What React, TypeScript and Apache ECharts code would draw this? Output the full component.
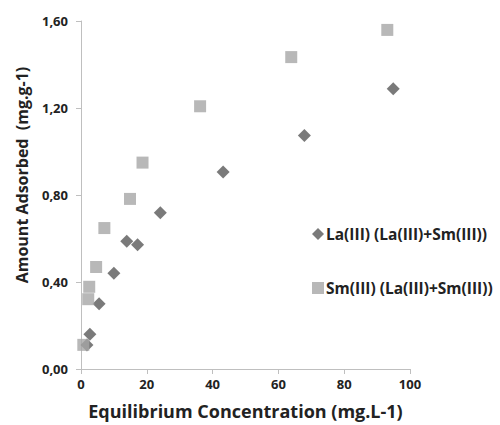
import React, { useEffect, useRef } from "react";
import * as echarts from "echarts";

const laX = [1.8, 2.7, 5.5, 10.0, 13.9, 17.2, 24.1, 43.2, 67.9, 94.9];
const laY = [0.11, 0.16, 0.30, 0.44, 0.587, 0.571, 0.718, 0.906, 1.074, 1.288];
const smX = [0.7, 2.2, 2.5, 4.6, 7.1, 14.9, 18.7, 36.2, 63.9, 93.1];
const smY = [0.111, 0.321, 0.378, 0.469, 0.648, 0.782, 0.949, 1.208, 1.434, 1.559];
const seriesNames = ["La(III) (La(III)+Sm(III))", "Sm(III) (La(III)+Sm(III))"];
const xTitle = "Equilibrium Concentration (mg.L-1)";
const yTitle = "Amount Adsorbed  (mg.g-1)";

export default function App() {
  const ref = useRef<HTMLDivElement>(null);
  useEffect(() => {
    if (!ref.current) return;
    const chart = echarts.init(ref.current, null, { renderer: "svg" });
    const font = "Open Sans";
    const textColor = "#222222";
    const la = laX.map((x, i) => [x, laY[i]]);
    const sm = smX.map((x, i) => [x, smY[i]]);
    chart.setOption({
      animation: false,
      backgroundColor: "#ffffff",
      grid: { left: 81, right: 90, top: 21, bottom: 54, containLabel: false },
      legend: {
        orient: "vertical",
        left: 307,
        top: 221,
        itemGap: 38,
        itemWidth: 12,
        itemHeight: 12,
        textStyle: { fontFamily: font, fontWeight: "bold", fontSize: 15.5, color: textColor, padding: [0, 0, 0, -3] },
        data: [
          { name: seriesNames[0], icon: "diamond", itemStyle: { color: "#595959" } },
          { name: seriesNames[1], icon: "rect", itemStyle: { color: "#a6a6a6" } },
        ],
      },
      graphic: [
        {
          type: "text",
          x: 22,
          y: 175,
          rotation: Math.PI / 2,
          style: {
            text: yTitle,
            fontFamily: font,
            fontWeight: "bold",
            fontSize: 16,
            fill: textColor,
            align: "center",
            verticalAlign: "middle",
          },
        },
      ],
      xAxis: {
        type: "value",
        min: 0,
        max: 100,
        interval: 20,
        name: xTitle,
        nameLocation: "middle",
        nameGap: 33,
        nameTextStyle: { fontFamily: font, fontWeight: "bold", fontSize: 18, color: textColor },
        axisLine: { show: true, onZero: false, lineStyle: { color: "#bfbfbf", width: 1 } },
        axisTick: { show: true, length: 5, lineStyle: { color: "#bfbfbf" } },
        axisLabel: { fontFamily: font, fontWeight: "bold", fontSize: 13, color: textColor, margin: 8 },
        splitLine: { show: false },
      },
      yAxis: {
        type: "value",
        min: 0,
        max: 1.6,
        interval: 0.4,
        axisLine: { show: true, onZero: false, lineStyle: { color: "#bfbfbf", width: 1 } },
        axisTick: { show: true, length: 5, lineStyle: { color: "#bfbfbf" } },
        axisLabel: {
          fontFamily: font,
          fontWeight: "bold",
          fontSize: 13,
          color: textColor,
          margin: 13,
          formatter: (v: number) => v.toFixed(2).replace(".", ","),
        },
        splitLine: { show: false },
      },
      series: [
        {
          name: seriesNames[1],
          type: "scatter",
          data: sm,
          symbol: "rect",
          symbolSize: 12,
          itemStyle: { color: "#a6a6a6" },
          z: 2,
        },
        {
          name: seriesNames[0],
          type: "scatter",
          data: la,
          symbol: "diamond",
          symbolSize: 13,
          itemStyle: { color: "#595959" },
          z: 1,
        },
      ],
    });
    return () => chart.dispose();
  }, []);
  return (
    <div
      ref={ref}
      style={{ position: "fixed", left: 0, top: 0, width: 500, height: 425, background: "#fff" }}
    />
  );
}
